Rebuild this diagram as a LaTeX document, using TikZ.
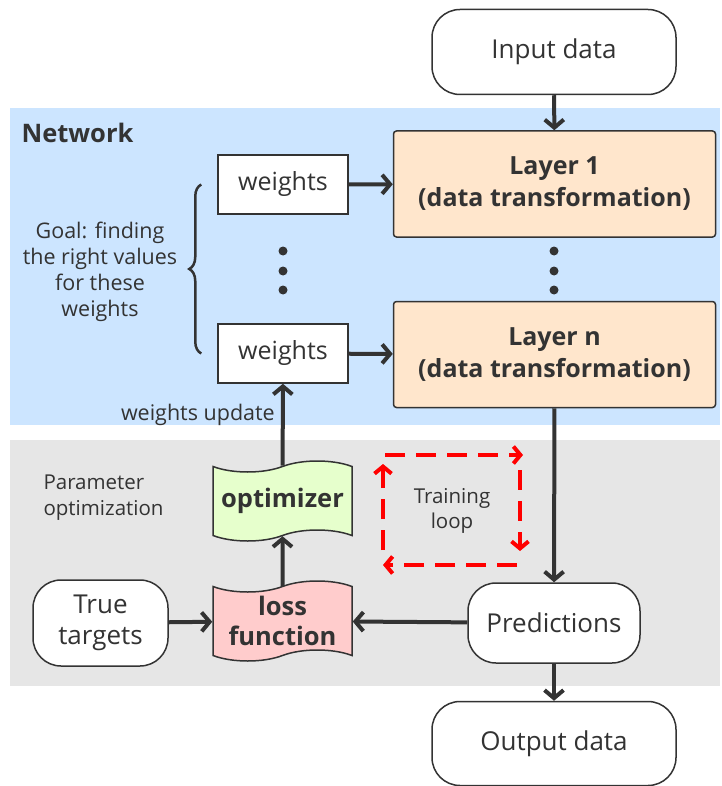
\documentclass[tikz,border=0pt]{standalone}
\usepackage{fontspec}
\setmainfont{Open Sans}
\usetikzlibrary{shapes.symbols,decorations.pathreplacing,arrows.meta}
\definecolor{netblue}{HTML}{CCE5FF}
\definecolor{optgray}{HTML}{E6E6E6}
\definecolor{layerfill}{HTML}{FFE6CC}
\definecolor{optfill}{HTML}{E6FFCC}
\definecolor{lossfill}{HTML}{FFCCCC}
\definecolor{ink}{HTML}{333333}

\begin{document}
\begin{tikzpicture}[x=1pt, y=-1pt,
  term/.style={draw=ink, line width=1.5pt, rounded corners=28pt, fill=white,
               text=ink, font=\fontsize{26}{31}\selectfont, align=center},
  layer/.style={draw=ink, line width=1.5pt, rounded corners=3pt, fill=layerfill,
                minimum width=322pt, minimum height=106pt, text=ink,
                font=\fontsize{25}{32}\selectfont\bfseries, align=center},
  wbox/.style={draw=ink, line width=1.5pt, fill=white, minimum width=130pt,
               minimum height=59pt, text=ink, font=\fontsize{25}{30}\selectfont},
  wavy/.style={tape, draw=ink, line width=1.5pt, minimum width=139pt,
               minimum height=80pt, tape bend top=in and out,
               tape bend bottom=in and out, tape bend height=11pt, text=ink,
               font=\fontsize{25.5}{30}\selectfont\bfseries, align=center},
  note/.style={text=ink, font=\fontsize{21.5}{26}\selectfont, align=center},
  arrow/.style={draw=ink, line width=4pt, -{Straight Barb[length=8pt,width=19pt]}},
  loop/.style={draw=red, line width=4pt, dash pattern=on 20pt off 11pt,
               -{Straight Barb[length=7pt,width=17pt]}}
]
  \useasboundingbox (0,0) rectangle (721,786);
  % background areas
  \fill[netblue] (10,108) rectangle (720,425);
  \fill[optgray] (10,440) rectangle (720,686);
  \node[text=ink, font=\fontsize{25.5}{30}\selectfont\bfseries, anchor=west] (net) at (18,133) {Network};
  \node[note, anchor=west, align=left, font=\fontsize{20.5}{26}\selectfont] (param) at (40,498) {Parameter\\optimization};

  % main column
  \node[term, minimum width=244pt, minimum height=85pt] (inp)  at (554,52)    {Input data};
  \node[layer] (l1) at (554.5,184)   {Layer 1\\(data transformation)};
  \node[layer] (ln) at (554.5,354.5) {Layer n\\(data transformation)};
  \node[term, minimum width=172pt, minimum height=80pt] (pred) at (554,623)   {Predictions};
  \node[term, minimum width=244pt, minimum height=84pt] (out)  at (554,743.5) {Output data};

  % weights and optimization
  \node[wbox] (w1) at (283,184.5) {weights};
  \node[wbox] (wn) at (283,353.5) {weights};
  \node[wavy, fill=optfill]  (opt)  at (282.5,501) {optimizer};
  \node[wavy, fill=lossfill] (loss) at (282.5,621) {loss\\function};
  \node[term, minimum width=135pt, minimum height=86pt] (tt) at (100.5,623) {True\\targets};

  % dots
  \foreach \y in {251,271,290} {
    \fill[ink] (554,\y) circle (4.5pt);
    \fill[ink] (283,\y) circle (4.5pt);
  }

  % goal brace
  \draw[ink, line width=2.5pt, decorate, decoration={brace, amplitude=12pt}]
    ([xshift=-16pt]wn.west) -- ([xshift=-16pt]w1.west);
  \node[note] (goal) at (100,272) {Goal: finding\\the right values\\for these\\weights};

  \draw[arrow] (inp) -- (l1);
  \draw[arrow] (w1) -- (l1);
  \draw[arrow] (wn) -- (ln);
  \draw[arrow] (ln) -- (pred);
  \draw[arrow] (pred) -- (out);
  \draw[arrow] (pred) -- (loss);
  \draw[arrow] (tt) -- (loss);
  \draw[arrow] (loss) -- (opt);
  \draw[arrow] (opt) -- node[note, pos=0.62, left, inner sep=6pt] {weights update} (wn);

  % training loop
  \coordinate (lpa) at (385,455);
  \coordinate (lpb) at (523,455);
  \coordinate (lpc) at (520,470);
  \coordinate (lpd) at (520,551);
  \coordinate (lpe) at (517,565);
  \coordinate (lpf) at (383,565);
  \coordinate (lpg) at (383,550);
  \coordinate (lph) at (383,464);
  \draw[loop] (lpa) -- (lpb);
  \draw[loop] (lpc) -- (lpd);
  \draw[loop] (lpe) -- (lpf);
  \draw[loop] (lpg) -- (lph);
  \node[note, font=\fontsize{20.5}{25}\selectfont] (train) at (452,511) {Training\\loop};
\end{tikzpicture}
\end{document}
